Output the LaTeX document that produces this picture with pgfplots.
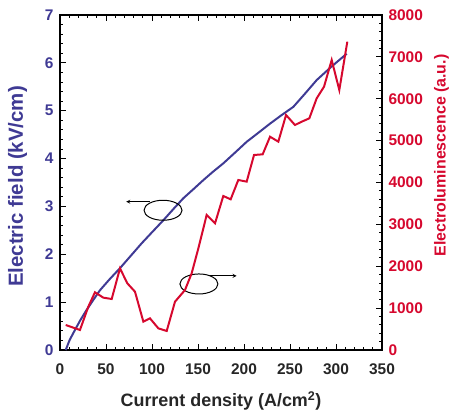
\documentclass[border=0pt]{standalone}
\usepackage{fontspec}
\setmainfont{Liberation Sans}
\usepackage{pgfplots}
\pgfplotsset{compat=1.18}
\definecolor{efblue}{HTML}{3F3A94}
\definecolor{elred}{HTML}{D6082E}
\definecolor{txtgray}{HTML}{262626}

\pgfplotsset{
  common/.style={
    scale only axis, width=322bp, height=335bp,
    xmin=0, xmax=350,
    axis line style={line width=1.3pt},
    every tick/.style={black, line width=0.9pt},
    major tick length=6bp, minor tick length=3.5bp,
    tick label style={font=\bfseries\fontsize{15.5}{15.5}\selectfont},
    /pgf/number format/assume math mode=true,
    /pgf/number format/1000 sep={},
  }
}

\begin{document}
\begin{tikzpicture}
\begin{axis}[
    common, name=ax,
    ymin=0, ymax=7,
    xtick={0,50,...,350}, minor x tick num=4,
    ytick={0,1,...,7}, minor y tick num=4,
    ytick pos=left,
    x tick label style={text=txtgray},
    y tick label style={text=efblue},
    xticklabel style={anchor=center, yshift=-19bp},
    yticklabel style={anchor=east, xshift=-3bp},
    xlabel={Current density (A/cm\textsuperscript{2})},
    xlabel style={text=txtgray, font=\bfseries\fontsize{18}{18}\selectfont,
        at={(rel axis cs:0.5,0)}, anchor=center, yshift=-51bp},
    ylabel={Electric field (kV/cm)},
    % label is rotated: yshift moves it sideways, xshift along the text
    ylabel style={text=efblue, font=\bfseries\fontsize{20.5}{20.5}\selectfont,
        at={(rel axis cs:0,0.5)}, anchor=center, yshift=42.5bp, xshift=-4bp},
]
\addplot[efblue, line width=2pt] coordinates {
    (6.2,0.00) (10.5,0.21) (16.3,0.42) (22,0.62) (29,0.84) (36,1.04)
    (43.5,1.25) (54,1.48) (65.2,1.71) (77,1.97) (88.8,2.23) (100,2.46)
    (112.3,2.71) (123,2.94) (134,3.17) (145,3.36) (155.8,3.55) (166,3.72)
    (177.5,3.90) (190,4.12) (202.9,4.35) (215,4.53) (228.3,4.73)
    (241,4.91) (253.6,5.08) (266,5.35) (279,5.64) (295,5.92) (311.6,6.19)
};
\draw[line width=1pt] (axis cs:112,2.92) ellipse [x radius=19bp, y radius=10bp];
\draw[line width=0.8pt, -stealth] (axis cs:98,3.1) -- (axis cs:72,3.1);
\draw[line width=1pt] (axis cs:151,1.38) ellipse [x radius=19bp, y radius=10bp];
\draw[line width=0.8pt, -stealth] (axis cs:163,1.55) -- (axis cs:192,1.55);
\end{axis}
\begin{axis}[
    common,
    ymin=0, ymax=8000,
    axis y line*=right, axis x line=none,
    ytick={0,1000,...,8000}, minor y tick num=4,
    scaled y ticks=false,
    y tick label style={text=elred},
    yticklabel style={anchor=west, xshift=3bp},
    ylabel={Electroluminescence (a.u.)},
    ylabel style={text=elred, font=\bfseries\fontsize{16}{16}\selectfont,
        at={(rel axis cs:1,0.5)}, anchor=center, yshift=-59.5bp, xshift=27bp},
]
\addplot[elred, line width=2pt] coordinates {
    (6.2,597) (21.7,478) (30.8,1035) (38,1378) (47.1,1250) (56.2,1218)
    (65.2,1950) (73.2,1592) (81.5,1393) (90.6,677) (97.8,756) (106.9,517)
    (116,454) (125,1154) (135.9,1433) (143.1,1831) (150.4,2428) (159.4,3224)
    (168.5,3025) (177.5,3678) (185.5,3598) (193.8,4060) (202.9,4020)
    (210.9,4657) (220.3,4673) (228.3,5094) (237.3,4975) (245.7,5612)
    (255.4,5373) (262.7,5452) (271,5532) (279,6010) (287,6288)
    (295.3,6925) (303.6,6209) (312.3,7363)
};
\end{axis}
\path (ax.south west) ++(-60bp,-69bp) rectangle ([shift={(71bp,15bp)}]ax.north east);
\end{tikzpicture}
\end{document}
